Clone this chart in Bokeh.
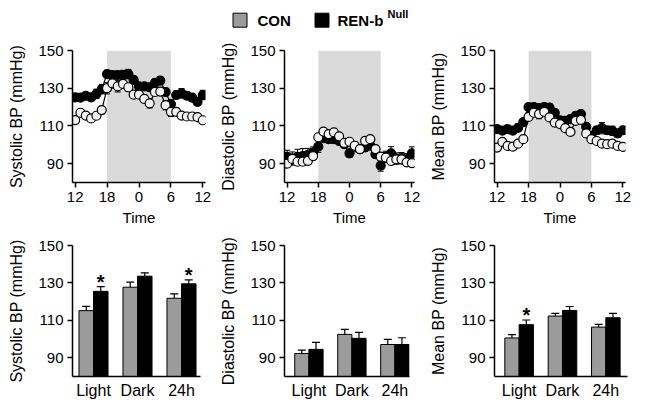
from bokeh.plotting import figure
from bokeh.layouts import column, row
from bokeh.models import Range1d, FixedTicker
from bokeh.core.properties import value
from bokeh.embed import file_html
from bokeh.resources import INLINE

FONT = "Liberation Sans"

# ---------------- data ----------------
hours = list(range(25))
time_ticks = [0, 6, 12, 18, 24]
time_labels = ["12", "18", "0", "6", "12"]
dark_start, dark_end = 6, 18

sys_con = [113.1, 117.0, 115.5, 114.0, 115.4, 118.4, 130.0, 132.6, 131.0, 132.3, 130.5, 126.6, 126.6,
           124.3, 122.0, 128.0, 128.2, 121.0, 117.5, 117.5, 115.5, 115.0, 115.0, 114.7, 113.0]
sys_ren = [125.1, 125.0, 126.0, 125.1, 127.0, 129.5, 137.5, 137.0, 137.0, 137.0, 137.5, 134.4, 131.0,
           131.0, 130.5, 132.8, 134.0, 128.0, 121.6, 126.4, 127.3, 126.0, 125.0, 122.8, 126.4]
sys_con_sem = [1.5, 1.5, 1.5, 1.5, 1.5, 2, 3, 2.5, 3, 2, 2, 1.5, 1.5, 2, 2.5, 2, 2, 2.5, 2.5, 1.5, 1.5,
               1.5, 1.5, 1.5, 1.5]
sys_ren_sem = [1.5, 1.5, 1.5, 1.5, 2.5, 2.5, 2, 2, 2, 2.5, 2.5, 2, 1.5, 2, 2, 2, 2, 2, 2.5, 2, 2.5, 2,
               2, 2, 2.5]

dia_con = [90.0, 92.5, 91.0, 91.0, 91.5, 94.0, 104.0, 107.0, 105.7, 106.6, 104.5, 101.0, 101.6, 99.5,
           97.7, 102.1, 103.0, 97.7, 93.7, 93.2, 91.4, 92.3, 92.3, 90.7, 90.3]
dia_ren = [93.6, 92.7, 93.6, 94.0, 94.6, 95.9, 99.0, 103.5, 103.0, 103.0, 102.0, 100.4, 95.4, 98.6,
           97.7, 98.6, 99.5, 95.0, 89.0, 93.6, 95.5, 92.7, 92.9, 92.3, 95.4]
dia_con_sem = [2, 2, 2, 2, 2, 2, 1.5, 1.5, 1.5, 1.5, 1.5, 1.5, 1.5, 2, 2, 1.5, 1.5, 2, 2, 2, 2, 2, 2,
               2, 2]
dia_ren_sem = [3.5, 3.5, 4, 4, 3.5, 3, 3, 2, 2, 2, 2, 2, 2, 2, 2, 2, 2, 2, 3, 3, 3.5, 3, 3, 3, 3.5]

mean_con = [98.5, 101.5, 99.4, 99.0, 100.6, 103.0, 114.8, 117.0, 116.3, 117.5, 114.5, 111.8, 111.0,
            108.8, 106.8, 112.7, 113.2, 106.0, 103.0, 102.0, 100.6, 100.3, 100.6, 99.4, 98.9]
mean_ren = [108.3, 107.5, 108.3, 107.5, 109.0, 112.0, 120.0, 120.0, 119.5, 120.0, 119.7, 117.0, 113.0,
            112.7, 113.6, 115.4, 116.3, 109.5, 104.7, 107.7, 108.8, 107.7, 107.4, 106.0, 107.7]
mean_con_sem = [1.5, 1.5, 1.5, 1.5, 1.5, 1.5, 2, 2, 2.5, 2, 1.5, 1.5, 1.5, 1.5, 1.5, 1.5, 1.5, 2, 2,
                1.5, 1.5, 1.5, 1.5, 1.5, 1.5]
mean_ren_sem = [1.5, 1.5, 2, 1.5, 2, 2, 1.5, 1.5, 1.5, 2, 2, 1.5, 1.5, 1.5, 2, 2, 2, 1.5, 2, 2, 3, 2,
                2.5, 2, 2]

periods = ["Light", "Dark", "24h"]
sys_bar_con = [115.2, 127.7, 121.8]
sys_bar_con_err = [2.3, 2.7, 2.3]
sys_bar_ren = [125.5, 133.6, 129.5]
sys_bar_ren_err = [2.5, 1.8, 2.1]
sys_sig = [True, False, True]

dia_bar_con = [92.3, 102.5, 97.1]
dia_bar_con_err = [1.8, 2.7, 2.7]
dia_bar_ren = [94.5, 100.4, 97.1]
dia_bar_ren_err = [3.7, 3.2, 3.6]
dia_sig = [False, False, False]

mean_bar_con = [100.6, 112.3, 106.4]
mean_bar_con_err = [1.8, 1.4, 1.4]
mean_bar_ren = [107.7, 115.3, 111.4]
mean_bar_ren_err = [2.5, 2.1, 2.3]
mean_sig = [True, False, False]

y_ticks = [90, 110, 130, 150]

# ---------------- styles ----------------
CON_FILL_BAR = "#9b9b9b"
CON_FILL_PT = "#f2f2f2"
SHADE = "#dadada"


def style_axes(p, ylabel):
    p.toolbar.logo = None
    p.outline_line_color = None
    p.xgrid.visible = False
    p.ygrid.visible = False
    p.background_fill_color = "white"
    p.border_fill_color = "white"
    for ax in (p.xaxis[0], p.yaxis[0]):
        ax.axis_line_width = 1.5
        ax.axis_line_color = "black"
        ax.major_tick_line_width = 1.5
        ax.major_tick_line_color = "black"
        ax.minor_tick_line_color = None
        ax.major_tick_in = 0
        ax.major_tick_out = 5
        ax.major_label_text_font = FONT
        ax.major_label_text_font_size = "15px"
        ax.major_label_text_color = "black"
        ax.axis_label_text_font = FONT
        ax.axis_label_text_font_style = "normal"
        ax.axis_label_text_color = "black"
    p.yaxis[0].ticker = FixedTicker(ticks=y_ticks)
    p.yaxis[0].axis_label = ylabel
    p.yaxis[0].axis_label_text_font_size = "16px"
    p.yaxis[0].major_label_standoff = 4
    p.yaxis[0].axis_label_standoff = 10


def time_panel(con, ren, con_sem, ren_sem, ylabel, width, bl, br):
    p = figure(width=width, height=190, x_range=Range1d(-0.5, 24.5), y_range=Range1d(80, 150),
               output_backend="svg", toolbar_location=None,
               min_border_left=bl, min_border_right=br, min_border_top=12, min_border_bottom=46)
    style_axes(p, ylabel)
    p.xaxis[0].ticker = FixedTicker(ticks=time_ticks)
    p.xaxis[0].major_label_overrides = {t: l for t, l in zip(time_ticks, time_labels)}
    p.xaxis[0].axis_label = "Time"
    p.xaxis[0].axis_label_text_font_size = "15px"
    p.xaxis[0].major_label_standoff = 4
    p.xaxis[0].axis_label_standoff = 4
    p.quad(left=[dark_start], right=[dark_end], bottom=[80], top=[150],
           fill_color=SHADE, line_color=None)
    for vals, sem, fill in ((ren, ren_sem, "black"), (con, con_sem, CON_FILL_PT)):
        lo = [v - s for v, s in zip(vals, sem)]
        hi = [v + s for v, s in zip(vals, sem)]
        p.segment(x0=hours, y0=lo, x1=hours, y1=hi, line_color="black", line_width=1)
        p.scatter(hours, hi, marker="dash", size=6, line_color="black", line_width=1)
        p.scatter(hours, lo, marker="dash", size=6, line_color="black", line_width=1)
        p.line(hours, vals, line_color="black", line_width=1.2)
        p.scatter(hours, vals, marker="circle", size=9, fill_color=fill, line_color="black",
                  line_width=1.2)
    return p


def bar_panel(con, con_err, ren, ren_err, sig, ylabel, width, bl, br, first_px):
    frame_w = width - bl - br
    unit = 44.0
    start = 1 - first_px / unit
    p = figure(width=width, height=180, x_range=Range1d(start, start + frame_w / unit),
               y_range=Range1d(80, 150), output_backend="svg", toolbar_location=None,
               min_border_left=bl, min_border_right=br, min_border_top=17, min_border_bottom=32)
    style_axes(p, ylabel)
    centers = [1, 2, 3]
    p.xaxis[0].ticker = FixedTicker(ticks=centers)
    p.xaxis[0].major_label_overrides = {c: l for c, l in zip(centers, periods)}
    p.xaxis[0].major_tick_out = 0
    p.xaxis[0].major_label_standoff = 5
    p.xaxis[0].major_label_text_font_size = "16px"
    half = 0.165
    xc = [c - half for c in centers]
    xr = [c + half for c in centers]
    for xs, vals, errs, fill in ((xc, con, con_err, CON_FILL_BAR), (xr, ren, ren_err, "black")):
        p.vbar(x=xs, width=2 * half, bottom=80, top=vals, fill_color=fill, line_color="black",
               line_width=1)
        hi = [v + e for v, e in zip(vals, errs)]
        p.segment(x0=xs, y0=vals, x1=xs, y1=hi, line_color="black", line_width=1.2)
        p.scatter(xs, hi, marker="dash", size=8, line_color="black", line_width=1.2)
    sx = [x for x, s in zip(xr, sig) if s]
    sy = [v + e + 2.5 for v, e, s in zip(ren, ren_err, sig) if s]
    if sx:
        p.text(x=sx, y=sy, text=["*"] * len(sx), text_font=value(FONT), text_font_size="20px",
               text_font_style="bold", text_align="center", text_baseline="middle",
               text_color="black")
    return p


# ---------------- legend ----------------
leg = figure(width=645, height=38, x_range=Range1d(0, 645), y_range=Range1d(0, 38),
             output_backend="svg", toolbar_location=None, min_border=0)
leg.axis.visible = False
leg.grid.visible = False
leg.outline_line_color = None
leg.scatter([239.5], [18.3], marker="square", size=14, fill_color=CON_FILL_BAR, line_color="black",
            line_width=1)
leg.scatter([321.5], [18.3], marker="square", size=14, fill_color="black", line_color="black")
leg.text(x=[257, 337], y=[18.0, 18.0], text=["CON", "REN-b"], text_font=value(FONT),
         text_font_size="15px", text_font_style="bold", text_baseline="middle",
         text_color="black")
leg.text(x=[387], y=[25.0], text=["Null"], text_font=value(FONT), text_font_size="11px",
         text_font_style="bold", text_baseline="middle", text_color="black")

t1 = time_panel(sys_con, sys_ren, sys_con_sem, sys_ren_sem, "Systolic BP (mmHg)", 217, 72, 12)
t2 = time_panel(dia_con, dia_ren, dia_con_sem, dia_ren_sem, "Diastolic BP (mmHg)", 210, 64, 13)
t3 = time_panel(mean_con, mean_ren, mean_con_sem, mean_ren_sem, "Mean BP (mmHg)", 218, 65, 20)

b1 = bar_panel(sys_bar_con, sys_bar_con_err, sys_bar_ren, sys_bar_ren_err, sys_sig,
               "Systolic BP (mmHg)", 217, 72, 17, 21)
b2 = bar_panel(dia_bar_con, dia_bar_con_err, dia_bar_ren, dia_bar_ren_err, dia_sig,
               "Diastolic BP (mmHg)", 210, 64, 18, 25)
b3 = bar_panel(mean_bar_con, mean_bar_con_err, mean_bar_ren, mean_bar_ren_err, mean_sig,
               "Mean BP (mmHg)", 218, 65, 18, 25)

layout = column(leg, row(t1, t2, t3), row(b1, b2, b3))
open("out.html", "w").write(file_html(layout, INLINE))
